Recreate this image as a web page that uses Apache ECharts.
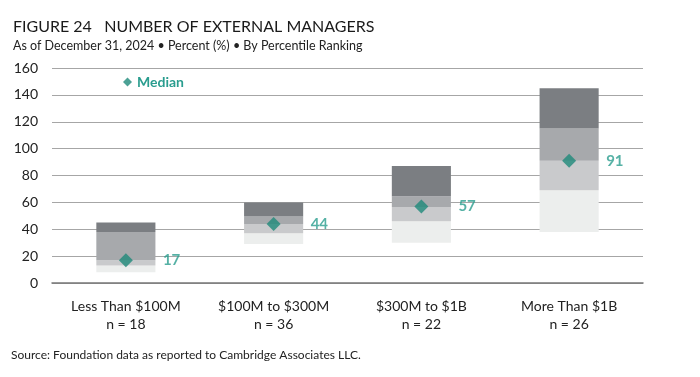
<!DOCTYPE html>
<html>
<head>
<meta charset="utf-8">
<script src="https://cdn.jsdelivr.net/npm/echarts@6/dist/echarts.min.js"></script>
<style>
  html, body { margin: 0; padding: 0; background: #fff; }
  #chart { width: 700px; height: 377px; }
</style>
</head>
<body>
<div id="chart"></div>
<script>
// 百分位浮动柱 + 中位数菱形
const categories = ['Less Than $100M\nn = 18', '$100M to $300M\nn = 36', '$300M to $1B\nn = 22', 'More Than $1B\nn = 26']
const p5 = [8, 29, 30, 38]
const p25 = [13, 37, 46, 69]
const p50 = [17, 44, 56.5, 91]
const p75 = [38, 49.5, 64.5, 115]
const p95 = [45, 60, 87, 145]
const median = [17, 44, 57, 91]
const yTicks = [0, 20, 40, 60, 80, 100, 120, 140, 160]

const segColors = ['#eceeed', '#c9cacc', '#a7a9ac', '#7b7e82']
const teal = '#1f8a7a'
const font = 'Lato, "Liberation Sans", sans-serif'

const lows = [p5, p25, p50, p75]
const highs = [p25, p50, p75, p95]

let series = [
  {
    type: 'bar',
    stack: 'pct',
    silent: true,
    barWidth: '40%',
    itemStyle: { color: 'transparent' },
    data: p5,
  },
]
segColors.forEach((c, i) => {
  series.push({
    type: 'bar',
    stack: 'pct',
    silent: true,
    barWidth: '40%',
    itemStyle: { color: c },
    data: highs[i].map((v, j) => v - lows[i][j]),
  })
})
series.push({
  type: 'scatter',
  name: 'Median',
  symbol: 'diamond',
  symbolSize: 14,
  itemStyle: { color: teal },
  z: 5,
  label: {
    show: true,
    position: 'right',
    distance: 30,
    color: '#2a9d8f',
    fontWeight: 'bold',
    fontSize: 15,
    fontFamily: 'Lato, sans-serif',
  },
  data: median,
})

const option = {
  animation: false,
  title: [
    {
      text: 'FIGURE 24   NUMBER OF EXTERNAL MANAGERS',
      left: 13,
      top: 19,
      padding: 0,
      textStyle: { fontSize: 16, fontWeight: 'normal', color: '#1a1a1a', fontFamily: 'Lato, sans-serif' },
    },
    {
      text: 'As of December 31, 2024 • Percent (%) • By Percentile Ranking',
      left: 13,
      top: 39,
      padding: 0,
      textStyle: { fontSize: 12.5, fontWeight: 'normal', color: '#222', fontFamily: font },
    },
    {
      text: 'Source: Foundation data as reported to Cambridge Associates LLC.',
      left: 11,
      top: 349,
      padding: 0,
      textStyle: { fontSize: 12, fontWeight: 'normal', color: '#222', fontFamily: font },
    },
  ],
  legend: {
    data: [{ name: 'Median', icon: 'diamond' }],
    left: 118,
    top: 70,
    itemWidth: 9,
    itemHeight: 9,
    itemGap: 4,
    textStyle: { color: '#2a9d8f', fontWeight: 'bold', fontSize: 14, fontFamily: 'Lato, sans-serif' },
  },
  grid: { left: 52, right: 57, top: 68, bottom: 94 },
  xAxis: {
    type: 'category',
    data: categories,
    axisLine: { lineStyle: { color: '#777', width: 1.5 } },
    axisTick: { show: false },
    axisLabel: { color: '#222', fontSize: 14, lineHeight: 18, margin: 14, fontFamily: font },
  },
  yAxis: {
    type: 'value',
    min: yTicks[0],
    max: yTicks[yTicks.length - 1],
    interval: 20,
    axisLine: { show: false },
    axisTick: { show: false },
    axisLabel: { color: '#222', fontSize: 14, margin: 14, fontFamily: font },
    splitLine: { lineStyle: { color: '#a6a6a6', width: 1.2 } },
  },
  series: series,
}

const myChart = echarts.init(document.getElementById('chart'))
myChart.setOption(option)
</script>
</body>
</html>
